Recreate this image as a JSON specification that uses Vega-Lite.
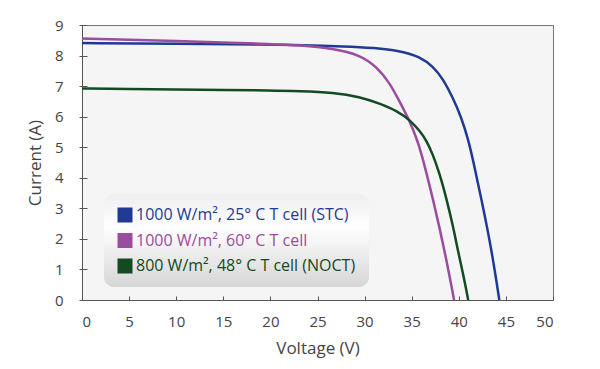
{
  "$schema": "https://vega.github.io/schema/vega-lite/v6.json",
  "autosize": "none",
  "width": 471,
  "height": 275,
  "padding": {"left": 82, "top": 25, "right": 47, "bottom": 69},
  "background": "white",
  "config": {
    "view": {"fill": "#f5f5f5", "stroke": "#777", "strokeWidth": 1},
    "font": "Open Sans",
    "axis": {
      "grid": false,
      "domainColor": "#555",
      "tickColor": "#555",
      "labelColor": "#444",
      "titleColor": "#444",
      "labelFont": "Open Sans",
      "titleFont": "Open Sans",
      "labelFontSize": 15,
      "titleFontSize": 17,
      "titleFontWeight": "normal"
    }
  },
  "data": {
    "values": [
      {"s": "1000 W/m², 25° C T cell (STC)", "v": 0, "i": 8.41},
      {"s": "1000 W/m², 25° C T cell (STC)", "v": 10, "i": 8.39},
      {"s": "1000 W/m², 25° C T cell (STC)", "v": 20, "i": 8.36},
      {"s": "1000 W/m², 25° C T cell (STC)", "v": 23, "i": 8.34},
      {"s": "1000 W/m², 25° C T cell (STC)", "v": 28, "i": 8.30},
      {"s": "1000 W/m², 25° C T cell (STC)", "v": 31, "i": 8.25},
      {"s": "1000 W/m², 25° C T cell (STC)", "v": 33.7, "i": 8.16},
      {"s": "1000 W/m², 25° C T cell (STC)", "v": 35.9, "i": 7.96},
      {"s": "1000 W/m², 25° C T cell (STC)", "v": 37.3, "i": 7.63},
      {"s": "1000 W/m², 25° C T cell (STC)", "v": 38.3, "i": 7.25},
      {"s": "1000 W/m², 25° C T cell (STC)", "v": 39.4, "i": 6.6},
      {"s": "1000 W/m², 25° C T cell (STC)", "v": 40.3, "i": 5.95},
      {"s": "1000 W/m², 25° C T cell (STC)", "v": 41.0, "i": 5.25},
      {"s": "1000 W/m², 25° C T cell (STC)", "v": 41.5, "i": 4.6},
      {"s": "1000 W/m², 25° C T cell (STC)", "v": 42.4, "i": 3.3},
      {"s": "1000 W/m², 25° C T cell (STC)", "v": 43.5, "i": 1.62},
      {"s": "1000 W/m², 25° C T cell (STC)", "v": 44.3, "i": 0},

      {"s": "1000 W/m², 60° C T cell", "v": 0, "i": 8.56},
      {"s": "1000 W/m², 60° C T cell", "v": 5, "i": 8.52},
      {"s": "1000 W/m², 60° C T cell", "v": 10, "i": 8.48},
      {"s": "1000 W/m², 60° C T cell", "v": 15, "i": 8.43},
      {"s": "1000 W/m², 60° C T cell", "v": 20, "i": 8.38},
      {"s": "1000 W/m², 60° C T cell", "v": 23.1, "i": 8.34},
      {"s": "1000 W/m², 60° C T cell", "v": 26.7, "i": 8.23},
      {"s": "1000 W/m², 60° C T cell", "v": 29.5, "i": 8.02},
      {"s": "1000 W/m², 60° C T cell", "v": 31.3, "i": 7.63},
      {"s": "1000 W/m², 60° C T cell", "v": 32.7, "i": 7.09},
      {"s": "1000 W/m², 60° C T cell", "v": 33.7, "i": 6.5},
      {"s": "1000 W/m², 60° C T cell", "v": 34.8, "i": 5.85},
      {"s": "1000 W/m², 60° C T cell", "v": 35.5, "i": 5.3},
      {"s": "1000 W/m², 60° C T cell", "v": 36.0, "i": 4.85},
      {"s": "1000 W/m², 60° C T cell", "v": 37.3, "i": 3.26},
      {"s": "1000 W/m², 60° C T cell", "v": 38.5, "i": 1.62},
      {"s": "1000 W/m², 60° C T cell", "v": 39.5, "i": 0},

      {"s": "800 W/m², 48° C T cell (NOCT)", "v": 0, "i": 6.92},
      {"s": "800 W/m², 48° C T cell (NOCT)", "v": 5, "i": 6.91},
      {"s": "800 W/m², 48° C T cell (NOCT)", "v": 10, "i": 6.89},
      {"s": "800 W/m², 48° C T cell (NOCT)", "v": 15, "i": 6.87},
      {"s": "800 W/m², 48° C T cell (NOCT)", "v": 20, "i": 6.86},
      {"s": "800 W/m², 48° C T cell (NOCT)", "v": 23.1, "i": 6.84},
      {"s": "800 W/m², 48° C T cell (NOCT)", "v": 26.7, "i": 6.79},
      {"s": "800 W/m², 48° C T cell (NOCT)", "v": 29.5, "i": 6.65},
      {"s": "800 W/m², 48° C T cell (NOCT)", "v": 31.6, "i": 6.43},
      {"s": "800 W/m², 48° C T cell (NOCT)", "v": 33.5, "i": 6.18},
      {"s": "800 W/m², 48° C T cell (NOCT)", "v": 34.8, "i": 5.89},
      {"s": "800 W/m², 48° C T cell (NOCT)", "v": 35.9, "i": 5.52},
      {"s": "800 W/m², 48° C T cell (NOCT)", "v": 36.6, "i": 5.2},
      {"s": "800 W/m², 48° C T cell (NOCT)", "v": 37.2, "i": 4.8},
      {"s": "800 W/m², 48° C T cell (NOCT)", "v": 38.0, "i": 4.1},
      {"s": "800 W/m², 48° C T cell (NOCT)", "v": 38.7, "i": 3.3},
      {"s": "800 W/m², 48° C T cell (NOCT)", "v": 39.4, "i": 2.4},
      {"s": "800 W/m², 48° C T cell (NOCT)", "v": 39.9, "i": 1.62},
      {"s": "800 W/m², 48° C T cell (NOCT)", "v": 40.5, "i": 0.8},
      {"s": "800 W/m², 48° C T cell (NOCT)", "v": 41.0, "i": 0}
    ]
  },
  "resolve": {"axis": {"y": "independent"}},
  "layer": [
    {
      "mark": {"type": "line", "interpolate": "basis", "strokeWidth": 2.5},
      "encoding": {
        "x": {
          "field": "v", "type": "quantitative",
          "scale": {"domain": [0, 50], "nice": false},
          "axis": {"values": [0,5,10,15,20,25,30,35,40,45,50], "title": "Voltage (V)", "tickSize": -4, "labelPadding": 18, "titlePadding": 11}
        },
        "y": {
          "field": "i", "type": "quantitative",
          "scale": {"domain": [0, 9], "nice": false},
          "axis": {"values": [0,1,2,3,4,5,6,7,8,9], "title": "Current (A)", "tickSize": 3, "labelPadding": 16, "titlePadding": 10}
        },
        "color": {
          "field": "s", "type": "nominal",
          "sort": ["1000 W/m², 25° C T cell (STC)", "1000 W/m², 60° C T cell", "800 W/m², 48° C T cell (NOCT)"],
          "scale": {
            "domain": ["1000 W/m², 25° C T cell (STC)", "1000 W/m², 60° C T cell", "800 W/m², 48° C T cell (NOCT)"],
            "range": ["#1f3a94", "#9a4c9f", "#124a22"]
          },
          "legend": {
            "title": null,
            "orient": "none",
            "legendX": 22,
            "legendY": 169,
            "padding": 13,
            "cornerRadius": 10,
            "symbolType": "square",
            "symbolSize": 225,
            "symbolStrokeWidth": 0,
            "symbolOffset": 0,
            "labelOffset": 3,
            "labelFont": "Open Sans",
            "labelFontSize": 16,
            "labelLimit": 400,
            "rowPadding": 9.5,
            "encode": {
              "legend": {"update": {"fill": {"value": {"gradient": "linear", "x1": 0, "y1": 0, "x2": 0, "y2": 1, "stops": [{"offset": 0, "color": "#eeeeee"}, {"offset": 0.35, "color": "#ffffff"}, {"offset": 1, "color": "#d6d6d6"}]}}}},
              "labels": {"update": {"fill": {"scale": "color", "field": "value"}}},
              "symbols": {"update": {"fill": {"scale": "color", "field": "value"}, "fillOpacity": {"value": 1}}}
            }
          }
        }
      }
    },
    {
      "mark": {"type": "line", "strokeOpacity": 0},
      "encoding": {
        "x": {"field": "v", "type": "quantitative"},
        "y": {
          "field": "i", "type": "quantitative",
          "axis": {"orient": "left", "values": [0,1,2,3,4,5,6,7,8,9], "title": null, "labels": false, "domain": false, "tickSize": -5}
        },
        "detail": {"field": "s", "type": "nominal"}
      }
    }
  ]
}
